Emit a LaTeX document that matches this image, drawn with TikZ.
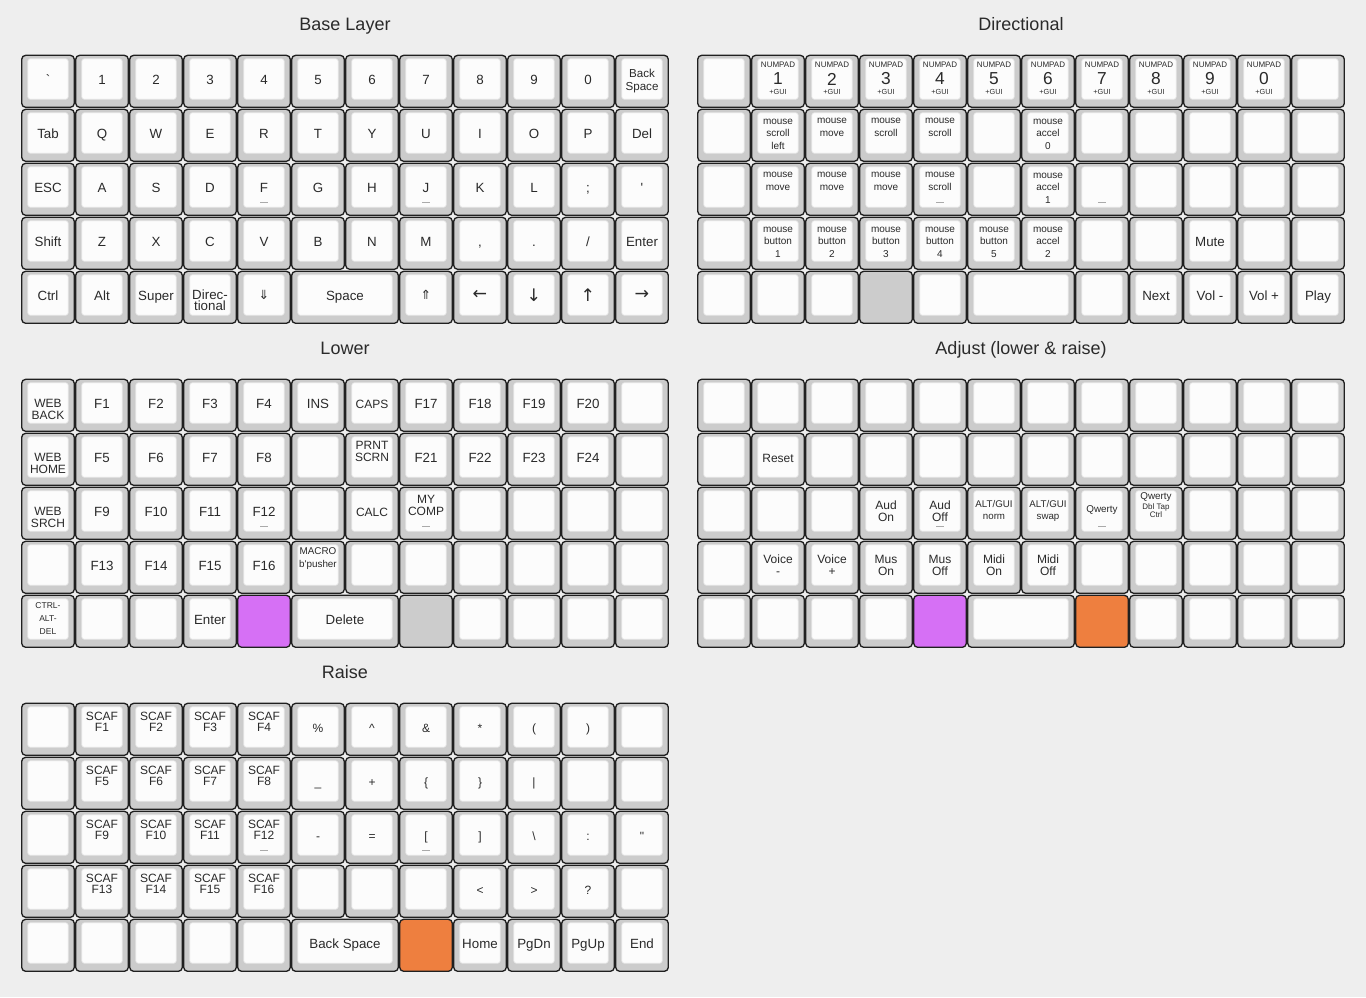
\documentclass[tikz,border=0pt]{standalone}
\usepackage{fontspec}
\setmainfont{Liberation Sans}
\newfontfamily\arrowfont{DejaVu Sans}

\definecolor{pagebg}{HTML}{EEEEEE}
\definecolor{keyedge}{HTML}{202020}
\definecolor{keygray}{HTML}{CCCCCC}
\definecolor{capwhite}{HTML}{FCFCFC}
\definecolor{capedge}{HTML}{E2E2E2}
\definecolor{labelgray}{HTML}{2A2A2A}
\definecolor{homegray}{HTML}{AAAAAA}
\definecolor{lowerpurple}{HTML}{D670F5}
\definecolor{raiseorange}{HTML}{EE7F3F}

\tikzset{
  keybody/.style={draw=keyedge, fill=keygray, line width=1pt, rounded corners=3pt},
  keytop/.style={draw=capedge, fill=capwhite, line width=0.5pt, rounded corners=2pt},
  keytext/.style={text=labelgray, font=\fontsize{10}{12}\selectfont, inner sep=0pt, align=center, anchor=base},
  ly/.style={anchor=center, yshift={(29.6-#1)*0.75pt}},
  title/.style={text=labelgray, font=\fontsize{13.5}{16}\selectfont, anchor=base},
  homebar/.style={draw=homegray, line width=0.6pt},
  smallcap/.style={font=\fontsize{9}{9}\selectfont},
  scaf/.style={font=\fontsize{9}{8.25}\selectfont},
  dirtext/.style={font=\fontsize{10}{8.25}\selectfont},
  backsp/.style={font=\fontsize{8.7}{9.75}\selectfont},
  mouse/.style={font=\fontsize{7.5}{9.4}\selectfont},
  ctrltext/.style={font=\fontsize{6.4}{9.75}\selectfont},
  macrotext/.style={font=\fontsize{7.4}{9.75}\selectfont},
  altgui/.style={font=\fontsize{7.3}{9}\selectfont},
  qwerty/.style={font=\fontsize{7.4}{9}\selectfont},
  dbltap/.style={font=\fontsize{6}{6}\selectfont},
  numpad/.style={font=\fontsize{6}{7}\selectfont},
  numdigit/.style={anchor=center, font=\fontsize{13}{14}\selectfont},
  numgui/.style={anchor=center, font=\fontsize{5.5}{6}\selectfont},
  symtext/.style={font=\fontsize{9}{11}\selectfont},
  arrowtext/.style={font=\arrowfont\fontsize{13}{15}\selectfont},
  dblarrow/.style={font=\arrowfont\fontsize{9.5}{10}\selectfont},
}

% key macros (col, row in key pitch of 54px)
\newcommand\keycap[5][]{%
  \path[keybody] (54*#3+0.7,54*#4+0.3) rectangle ++(52.6,52);
  \path[keytop] (54*#3+6.7,54*#4+3.7) rectangle ++(40.6,40.6);
  \node[keytext,#1] (#2) at (54*#3+27,54*#4+29.6) {#5};
}
\newcommand\widecap[5][]{%
  \path[keybody] (54*#3+0.7,54*#4+0.3) rectangle ++(106.6,52);
  \path[keytop] (54*#3+6.7,54*#4+3.7) rectangle ++(94.6,40.6);
  \node[keytext,#1] (#2) at (54*#3+54,54*#4+29.6) {#5};
}
\newcommand\solidkey[3]{%
  \path[keybody,fill=#3] (54*#1+0.7,54*#2+0.3) rectangle ++(52.6,52);
}
\newcommand\homing[2]{\draw[homebar] (54*#1+23,54*#2+39.7) -- ++(8,0);}

\begin{document}
\begin{tikzpicture}[x=0.75pt, y=-0.75pt]

  \fill[pagebg] (0,0) rectangle (1366,997);

  % ---------------- Base Layer ----------------
  \begin{scope}[shift={(21,55)}]
    \node[title] (base-title) at (324,-24.5) {Base Layer};
    % number row
    \keycap{b-0-0}{0}{0}{\textasciigrave}
    \foreach \d [count=\c] in {1,2,3,4,5,6,7,8,9,0}{
      \keycap{b-0-\c}{\c}{0}{\d}
    }
    \keycap[backsp,ly=25.5]{b-0-11}{11}{0}{Back\\Space}
    % top row
    \keycap{b-1-0}{0}{1}{Tab}
    \foreach \l [count=\c] in {Q,W,E,R,T,Y,U,I,O,P}{
      \keycap{b-1-\c}{\c}{1}{\l}
    }
    \keycap{b-1-11}{11}{1}{Del}
    % home row
    \keycap{b-2-0}{0}{2}{ESC}
    \foreach \l [count=\c] in {A,S,D,F,G,H,J,K,L}{
      \keycap{b-2-\c}{\c}{2}{\l}
    }
    \keycap{b-2-10}{10}{2}{;}
    \keycap{b-2-11}{11}{2}{\textquotesingle}
    \homing{4}{2}
    \homing{7}{2}
    % bottom row
    \keycap{b-3-0}{0}{3}{Shift}
    \foreach \l [count=\c] in {Z,X,C,V,B,N,M}{
      \keycap{b-3-\c}{\c}{3}{\l}
    }
    \keycap{b-3-8}{8}{3}{,}
    \keycap{b-3-9}{9}{3}{.}
    \keycap{b-3-10}{10}{3}{/}
    \keycap{b-3-11}{11}{3}{Enter}
    % thumb row
    \keycap{b-4-0}{0}{4}{Ctrl}
    \keycap{b-4-1}{1}{4}{Alt}
    \keycap{b-4-2}{2}{4}{Super}
    \keycap[dirtext,ly=29.5]{b-4-3}{3}{4}{Direc-\\tional}
    \keycap[dblarrow,ly=24]{b-4-4}{4}{4}{⇓}
    \widecap{b-4-5}{5}{4}{Space}
    \keycap[dblarrow,ly=24]{b-4-7}{7}{4}{⇑}
    \keycap[arrowtext,ly=24]{b-4-8}{8}{4}{←}
    \keycap[arrowtext,ly=24]{b-4-9}{9}{4}{↓}
    \keycap[arrowtext,ly=24]{b-4-10}{10}{4}{↑}
    \keycap[arrowtext,ly=24]{b-4-11}{11}{4}{→}
  \end{scope}

  % ---------------- Directional ----------------
  \begin{scope}[shift={(697,55)}]
    \node[title] (dir-title) at (324,-24.5) {Directional};
    % number row
    \keycap{d-0-0}{0}{0}{}
    \foreach \d [count=\c] in {1,2,3,4,5,6,7,8,9,0}{
      \keycap[numpad,ly=10]{d-0-\c}{\c}{0}{NUMPAD}
      \node[keytext,numdigit] (d-num-\c) at (54*\c+27,24) {\d};
      \node[keytext,numgui] (d-gui-\c) at (54*\c+27,37) {+GUI};
    }
    \keycap{d-0-11}{11}{0}{}
    % top row
    \keycap{d-1-0}{0}{1}{}
    \keycap[mouse,ly=25]{d-1-1}{1}{1}{mouse\\scroll\\left}
    \keycap[mouse,ly=18.5]{d-1-2}{2}{1}{mouse\\move}
    \keycap[mouse,ly=18.5]{d-1-3}{3}{1}{mouse\\scroll}
    \keycap[mouse,ly=18.5]{d-1-4}{4}{1}{mouse\\scroll}
    \keycap{d-1-5}{5}{1}{}
    \keycap[mouse,ly=25]{d-1-6}{6}{1}{mouse\\accel\\0}
    \foreach \c in {7,...,11}{
      \keycap{d-1-\c}{\c}{1}{}
    }
    % home row
    \keycap{d-2-0}{0}{2}{}
    \foreach \c in {1,2,3}{
      \keycap[mouse,ly=18.5]{d-2-\c}{\c}{2}{mouse\\move}
    }
    \keycap[mouse,ly=18.5]{d-2-4}{4}{2}{mouse\\scroll}
    \keycap{d-2-5}{5}{2}{}
    \keycap[mouse,ly=25]{d-2-6}{6}{2}{mouse\\accel\\1}
    \foreach \c in {7,...,11}{
      \keycap{d-2-\c}{\c}{2}{}
    }
    \homing{4}{2}
    \homing{7}{2}
    % bottom row
    \keycap{d-3-0}{0}{3}{}
    \foreach \c in {1,...,5}{
      \keycap[mouse,ly=25]{d-3-\c}{\c}{3}{mouse\\button\\\c}
    }
    \keycap[mouse,ly=25]{d-3-6}{6}{3}{mouse\\accel\\2}
    \keycap{d-3-7}{7}{3}{}
    \keycap{d-3-8}{8}{3}{}
    \keycap{d-3-9}{9}{3}{Mute}
    \keycap{d-3-10}{10}{3}{}
    \keycap{d-3-11}{11}{3}{}
    % thumb row
    \foreach \c in {0,1,2}{
      \keycap{d-4-\c}{\c}{4}{}
    }
    \solidkey{3}{4}{keygray}
    \keycap{d-4-4}{4}{4}{}
    \widecap{d-4-5}{5}{4}{}
    \keycap{d-4-7}{7}{4}{}
    \keycap{d-4-8}{8}{4}{Next}
    \keycap{d-4-9}{9}{4}{Vol -}
    \keycap{d-4-10}{10}{4}{Vol +}
    \keycap{d-4-11}{11}{4}{Play}
  \end{scope}

  % ---------------- Lower ----------------
  \begin{scope}[shift={(21,379)}]
    \node[title] (lower-title) at (324,-24.5) {Lower};
    % number row
    \keycap[smallcap,ly=30.5]{l-0-0}{0}{0}{WEB\\BACK}
    \foreach \f [count=\c] in {1,...,4}{
      \keycap{l-0-\c}{\c}{0}{F\f}
    }
    \keycap{l-0-5}{5}{0}{INS}
    \keycap[smallcap]{l-0-6}{6}{0}{CAPS}
    \foreach \f [count=\c from 7] in {17,...,20}{
      \keycap{l-0-\c}{\c}{0}{F\f}
    }
    \keycap{l-0-11}{11}{0}{}
    % top row
    \keycap[smallcap,ly=30.5]{l-1-0}{0}{1}{WEB\\HOME}
    \foreach \f [count=\c] in {5,...,8}{
      \keycap{l-1-\c}{\c}{1}{F\f}
    }
    \keycap{l-1-5}{5}{1}{}
    \keycap[smallcap,ly=18.5]{l-1-6}{6}{1}{PRNT\\SCRN}
    \foreach \f [count=\c from 7] in {21,...,24}{
      \keycap{l-1-\c}{\c}{1}{F\f}
    }
    \keycap{l-1-11}{11}{1}{}
    % home row
    \keycap[smallcap,ly=30.5]{l-2-0}{0}{2}{WEB\\SRCH}
    \foreach \f [count=\c] in {9,...,12}{
      \keycap{l-2-\c}{\c}{2}{F\f}
    }
    \keycap{l-2-5}{5}{2}{}
    \keycap[smallcap]{l-2-6}{6}{2}{CALC}
    \keycap[smallcap,ly=18.5]{l-2-7}{7}{2}{MY\\COMP}
    \foreach \c in {8,...,11}{
      \keycap{l-2-\c}{\c}{2}{}
    }
    \homing{4}{2}
    \homing{7}{2}
    % bottom row
    \keycap{l-3-0}{0}{3}{}
    \foreach \f [count=\c] in {13,...,16}{
      \keycap{l-3-\c}{\c}{3}{F\f}
    }
    \keycap[macrotext,ly=17.5]{l-3-5}{5}{3}{MACRO\\b\textquotesingle pusher}
    \foreach \c in {6,...,11}{
      \keycap{l-3-\c}{\c}{3}{}
    }
    % thumb row
    \keycap[ctrltext,ly=24]{l-4-0}{0}{4}{CTRL-\\ALT-\\DEL}
    \keycap{l-4-1}{1}{4}{}
    \keycap{l-4-2}{2}{4}{}
    \keycap{l-4-3}{3}{4}{Enter}
    \solidkey{4}{4}{lowerpurple}
    \widecap{l-4-5}{5}{4}{Delete}
    \solidkey{7}{4}{keygray}
    \foreach \c in {8,...,11}{
      \keycap{l-4-\c}{\c}{4}{}
    }
  \end{scope}

  % ---------------- Adjust (lower & raise) ----------------
  \begin{scope}[shift={(697,379)}]
    \node[title] (adjust-title) at (324,-24.5) {Adjust (lower \& raise)};
    % number row
    \foreach \c in {0,...,11}{
      \keycap{a-0-\c}{\c}{0}{}
    }
    % top row
    \keycap{a-1-0}{0}{1}{}
    \keycap[smallcap]{a-1-1}{1}{1}{Reset}
    \foreach \c in {2,...,11}{
      \keycap{a-1-\c}{\c}{1}{}
    }
    % home row
    \foreach \c in {0,1,2}{
      \keycap{a-2-\c}{\c}{2}{}
    }
    \keycap[smallcap,ly=24.5]{a-2-3}{3}{2}{Aud\\On}
    \keycap[smallcap,ly=24.5]{a-2-4}{4}{2}{Aud\\Off}
    \keycap[altgui,ly=23.5]{a-2-5}{5}{2}{ALT/GUI\\norm}
    \keycap[altgui,ly=23.5]{a-2-6}{6}{2}{ALT/GUI\\swap}
    \keycap[qwerty,ly=23.5]{a-2-7}{7}{2}{Qwerty}
    \keycap[qwerty,ly=10.5]{a-2-8}{8}{2}{Qwerty}
    \node[keytext,dbltap,ly=23.5] (a-dbltap) at (54*8+27,54*2+29.6) {Dbl Tap\\Ctrl};
    \foreach \c in {9,10,11}{
      \keycap{a-2-\c}{\c}{2}{}
    }
    \homing{4}{2}
    \homing{7}{2}
    % bottom row
    \keycap{a-3-0}{0}{3}{}
    \keycap[smallcap,ly=24.5]{a-3-1}{1}{3}{Voice\\-}
    \keycap[smallcap,ly=24.5]{a-3-2}{2}{3}{Voice\\+}
    \keycap[smallcap,ly=24.5]{a-3-3}{3}{3}{Mus\\On}
    \keycap[smallcap,ly=24.5]{a-3-4}{4}{3}{Mus\\Off}
    \keycap[smallcap,ly=24.5]{a-3-5}{5}{3}{Midi\\On}
    \keycap[smallcap,ly=24.5]{a-3-6}{6}{3}{Midi\\Off}
    \foreach \c in {7,...,11}{
      \keycap{a-3-\c}{\c}{3}{}
    }
    % thumb row
    \foreach \c in {0,...,3}{
      \keycap{a-4-\c}{\c}{4}{}
    }
    \solidkey{4}{4}{lowerpurple}
    \widecap{a-4-5}{5}{4}{}
    \solidkey{7}{4}{raiseorange}
    \foreach \c in {8,...,11}{
      \keycap{a-4-\c}{\c}{4}{}
    }
  \end{scope}

  % ---------------- Raise ----------------
  \begin{scope}[shift={(21,703)}]
    \node[title] (raise-title) at (324,-24.5) {Raise};
    % number row
    \keycap{r-0-0}{0}{0}{}
    \foreach \f [count=\c] in {1,...,4}{
      \keycap[scaf,ly=18.5]{r-0-\c}{\c}{0}{SCAF\\F\f}
    }
    \keycap[symtext]{r-0-5}{5}{0}{\%}
    \keycap[symtext]{r-0-6}{6}{0}{\textasciicircum}
    \keycap[symtext]{r-0-7}{7}{0}{\&}
    \keycap[symtext]{r-0-8}{8}{0}{*}
    \keycap[symtext]{r-0-9}{9}{0}{(}
    \keycap[symtext]{r-0-10}{10}{0}{)}
    \keycap{r-0-11}{11}{0}{}
    % top row
    \keycap{r-1-0}{0}{1}{}
    \foreach \f [count=\c] in {5,...,8}{
      \keycap[scaf,ly=18.5]{r-1-\c}{\c}{1}{SCAF\\F\f}
    }
    \keycap[symtext]{r-1-5}{5}{1}{\_}
    \keycap[symtext]{r-1-6}{6}{1}{+}
    \keycap[symtext]{r-1-7}{7}{1}{\{}
    \keycap[symtext]{r-1-8}{8}{1}{\}}
    \keycap[symtext]{r-1-9}{9}{1}{\textbar}
    \keycap{r-1-10}{10}{1}{}
    \keycap{r-1-11}{11}{1}{}
    % home row
    \keycap{r-2-0}{0}{2}{}
    \foreach \f [count=\c] in {9,...,12}{
      \keycap[scaf,ly=18.5]{r-2-\c}{\c}{2}{SCAF\\F\f}
    }
    \keycap[symtext]{r-2-5}{5}{2}{-}
    \keycap[symtext]{r-2-6}{6}{2}{=}
    \keycap[symtext]{r-2-7}{7}{2}{[}
    \keycap[symtext]{r-2-8}{8}{2}{]}
    \keycap[symtext]{r-2-9}{9}{2}{\textbackslash}
    \keycap[symtext]{r-2-10}{10}{2}{:}
    \keycap[symtext]{r-2-11}{11}{2}{\textquotedbl}
    \homing{4}{2}
    \homing{7}{2}
    % bottom row
    \keycap{r-3-0}{0}{3}{}
    \foreach \f [count=\c] in {13,...,16}{
      \keycap[scaf,ly=18.5]{r-3-\c}{\c}{3}{SCAF\\F\f}
    }
    \foreach \c in {5,6,7}{
      \keycap{r-3-\c}{\c}{3}{}
    }
    \keycap[symtext]{r-3-8}{8}{3}{<}
    \keycap[symtext]{r-3-9}{9}{3}{>}
    \keycap[symtext]{r-3-10}{10}{3}{?}
    \keycap{r-3-11}{11}{3}{}
    % thumb row
    \foreach \c in {0,...,4}{
      \keycap{r-4-\c}{\c}{4}{}
    }
    \widecap{r-4-5}{5}{4}{Back Space}
    \solidkey{7}{4}{raiseorange}
    \keycap{r-4-8}{8}{4}{Home}
    \keycap{r-4-9}{9}{4}{PgDn}
    \keycap{r-4-10}{10}{4}{PgUp}
    \keycap{r-4-11}{11}{4}{End}
  \end{scope}

\end{tikzpicture}
\end{document}
